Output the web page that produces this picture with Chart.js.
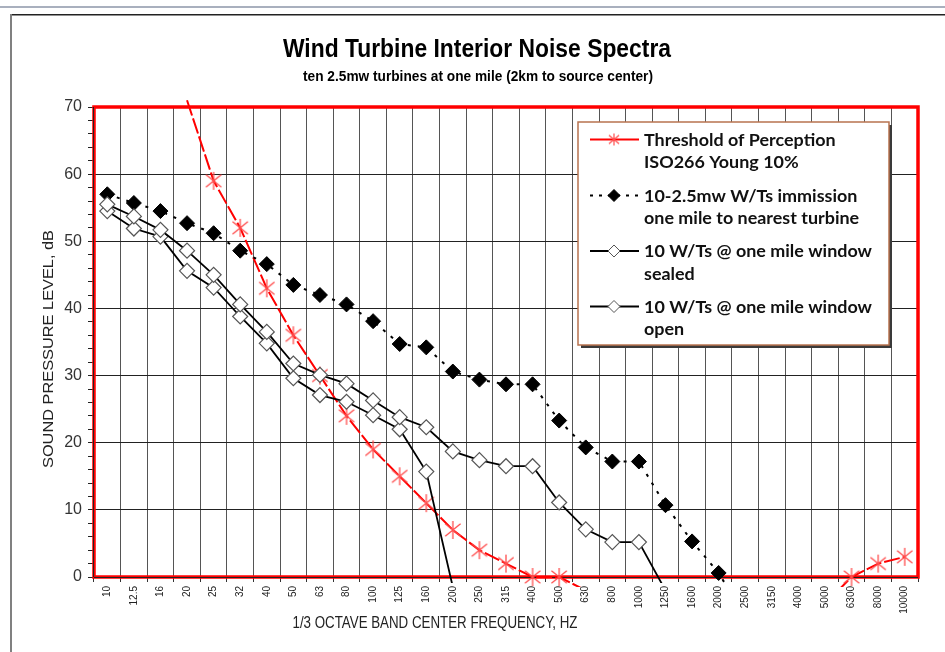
<!DOCTYPE html>
<html>
<head>
<meta charset="utf-8">
<title>Wind Turbine Interior Noise Spectra</title>
<script src="https://cdn.jsdelivr.net/npm/chart.js@4.4.0/dist/chart.umd.min.js"></script>
<style>
  body { margin: 0; background: #fff; }
  canvas { display: block; }
</style>
</head>
<body>
<canvas id="noiseChart" width="945" height="652"></canvas>
<script>
// 1/3 octave band centre frequencies, Hz
var bands = ['10', '12.5', '16', '20', '25', '32', '40', '50', '63', '80', '100', '125', '160', '200', '250',
             '315', '400', '500', '630', '800', '1000', '1250', '1600', '2000', '2500', '3150', '4000',
             '5000', '6300', '8000', '10000'];

// dB values (values below 0 sit outside the plot and get clipped)
var threshold = [null, null, null, 71, 59, 52, 43, 36, 30, 24, 19, 15, 11, 7, 4, 2, 0, 0,
                 -2, -4, -5, -6, -7, -8, -8, -8, -7, -4, 0, 2, 3];
var immission = [57, 55.7, 54.5, 52.7, 51.2, 48.6, 46.6, 43.5, 42, 40.6, 38.1, 34.7, 34.2, 30.6, 29.4,
                 28.7, 28.7, 23.3, 19.3, 17.2, 17.2, 10.7, 5.3, 0.6, -6, null, null, null, null, null, null];
var windowSealed = [54.5, 51.9, 50.7, 45.6, 43.1, 38.8, 34.8, 29.6, 27.1, 26.1, 24.1, 22, 15.7, -1.5, -10,
                    null, null, null, null, null, null, null, null, null, null, null, null, null, null, null, null];
var windowOpen = [55.5, 53.7, 51.7, 48.6, 45, 40.6, 36.5, 31.8, 30.1, 28.8, 26.3, 23.8, 22.3, 18.7, 17.4,
                  16.5, 16.5, 11.1, 7.1, 5.2, 5.2, -2, null, null, null, null, null, null, null, null, null];

// legend text, two lines per series
var legendText = [
    ['Threshold of Perception', 'ISO266 Young 10%'],
    ['10-2.5mw W/Ts immission', 'one mile to nearest turbine'],
    ['10 W/Ts @ one mile window', 'sealed'],
    ['10 W/Ts @ one mile window', 'open']
];

var FONT = "'Liberation Sans', Arial, sans-serif";

// six-armed asterisk like the spreadsheet marker
function makeAsterisk(r, width) {
    var c = document.createElement('canvas');
    c.width = c.height = 2 * r + 2;
    var g = c.getContext('2d');
    var m = r + 1;
    g.strokeStyle = '#ff4d4d';
    g.lineWidth = width;
    g.beginPath();
    g.moveTo(m, m - r); g.lineTo(m, m + r);
    g.moveTo(m - r * 0.85, m - r * 0.7); g.lineTo(m + r * 0.85, m + r * 0.7);
    g.moveTo(m - r * 0.85, m + r * 0.7); g.lineTo(m + r * 0.85, m - r * 0.7);
    g.stroke();
    return c;
}
var asterisk = makeAsterisk(9, 1.3);
var smallAsterisk = makeAsterisk(6, 1.2);

// draw text squeezed sideways to a given width
function fitText(ctx, text, x, y, font, width, align) {
    ctx.save();
    ctx.font = font;
    var s = width / ctx.measureText(text).width;
    ctx.translate(x, y);
    ctx.scale(s, 1);
    ctx.textAlign = align || 'center';
    ctx.fillText(text, 0, 0);
    ctx.restore();
}

function legendMarker(ctx, kind, x, y) {
    ctx.save();
    ctx.setLineDash([]);
    if (kind === 'star') {
        ctx.drawImage(smallAsterisk, x - smallAsterisk.width / 2, y - smallAsterisk.height / 2);
    } else {
        ctx.beginPath();
        ctx.moveTo(x, y - 6); ctx.lineTo(x + 6, y); ctx.lineTo(x, y + 6); ctx.lineTo(x - 6, y);
        ctx.closePath();
        ctx.fillStyle = kind === 'filled' ? '#000' : '#fff';
        ctx.fill();
        ctx.strokeStyle = kind === 'filled' ? '#000' : '#555';
        ctx.lineWidth = 1;
        ctx.stroke();
    }
    ctx.restore();
}

function hideOutside(r) {
    return function(c) { return (c.raw < 0 || c.raw > 70) ? 0 : r; };
}

var decorations = {
    id: 'decorations',
    beforeDraw: function(chart) {
        var ctx = chart.ctx;
        ctx.save();
        ctx.fillStyle = '#fff';
        ctx.fillRect(0, 0, chart.width, chart.height);
        // outer frame
        ctx.fillStyle = '#a9b0be';
        ctx.fillRect(0, 6, chart.width, 2);
        ctx.fillStyle = '#222';
        ctx.fillRect(11, 14, chart.width - 11, 1.5);
        ctx.fillStyle = '#808080';
        ctx.fillRect(10, 14, 2, chart.height - 14);
        ctx.restore();
    },
    beforeDatasetsDraw: function(chart) {
        var ctx = chart.ctx, a = chart.chartArea;
        ctx.save();
        ctx.strokeStyle = '#ff0000';
        ctx.lineWidth = 3.5;
        ctx.strokeRect(a.left, a.top, a.right - a.left, a.bottom - a.top);
        ctx.fillStyle = '#222';
        ctx.fillRect(a.left - 1, a.top, 1, a.bottom - a.top);
        ctx.fillRect(a.left, a.bottom, a.right - a.left, 1);
        ctx.restore();
    },
    afterDraw: function(chart) {
        var ctx = chart.ctx;
        ctx.save();
        ctx.fillStyle = '#000';
        fitText(ctx, 'Wind Turbine Interior Noise Spectra', 477, 57, 'bold 25px ' + FONT, 388);
        fitText(ctx, 'ten 2.5mw turbines at one mile (2km to source center)', 478, 81, 'bold 15px ' + FONT, 350);

        ctx.fillStyle = '#222';
        fitText(ctx, '1/3 OCTAVE BAND CENTER FREQUENCY, HZ', 435, 628, '16px ' + FONT, 285);
        ctx.save();
        ctx.translate(53, 349);
        ctx.rotate(-Math.PI / 2);
        fitText(ctx, 'SOUND PRESSURE LEVEL, dB', 0, 0, '15px ' + FONT, 238);
        ctx.restore();

        // legend box
        var bx = 578, by = 122, bw = 311, bh = 223;
        ctx.fillStyle = '#3a3a3a';
        ctx.fillRect(bx + 3, by + 3, bw, bh);
        ctx.fillStyle = '#fff';
        ctx.fillRect(bx, by, bw, bh);
        ctx.strokeStyle = '#b8734f';
        ctx.lineWidth = 1.5;
        ctx.strokeRect(bx, by, bw, bh);

        var baselines = [145.5, 201.5, 257, 312.5];
        var legendFont = "bold 17px Lato, 'Open Sans', sans-serif";
        ctx.font = legendFont;
        var squeeze = 228 / ctx.measureText('10 W/Ts @ one mile window').width;
        var kinds = ['star', 'filled', 'open', 'open'];
        chart.data.datasets.forEach(function(ds, i) {
            var y = baselines[i] - 6;
            ctx.save();
            ctx.strokeStyle = ds.borderColor;
            ctx.lineWidth = ds.borderWidth;
            ctx.setLineDash(i === 1 ? [3, 6] : []);
            ctx.beginPath();
            ctx.moveTo(590, y);
            ctx.lineTo(639, y);
            ctx.stroke();
            ctx.restore();
            legendMarker(ctx, kinds[i], 614, y);

            ctx.fillStyle = '#111';
            legendText[i].forEach(function(line, j) {
                ctx.save();
                ctx.font = legendFont;
                ctx.translate(644, baselines[i] + j * 22.5);
                ctx.scale(squeeze, 1);
                ctx.textAlign = 'left';
                ctx.fillText(line, 0, 0);
                ctx.restore();
            });
        });
        ctx.restore();
    }
};

var chart = new Chart(document.getElementById('noiseChart'), {
    type: 'line',
    data: {
        labels: bands,
        datasets: [{
            label: legendText[0].join(' '),
            data: threshold,
            borderColor: '#ff0000',
            borderWidth: 2,
            borderDash: [16, 3],
            pointStyle: asterisk,
            pointRadius: hideOutside(9),
            clip: { left: 0, top: 8, right: 0, bottom: 10 },
            order: 4
        }, {
            label: legendText[1].join(' '),
            data: immission,
            borderColor: '#000',
            borderWidth: 2,
            borderDash: [3, 7],
            pointStyle: 'rectRot',
            pointRadius: hideOutside(7.5),
            pointBackgroundColor: '#000',
            pointBorderColor: '#000',
            pointBorderWidth: 1,
            clip: { left: 0, top: 0, right: 0, bottom: 8 },
            order: 3
        }, {
            label: legendText[2].join(' '),
            data: windowSealed,
            borderColor: '#000',
            borderWidth: 1.8,
            pointStyle: 'rectRot',
            pointRadius: hideOutside(7.5),
            pointBackgroundColor: '#fff',
            pointBorderColor: '#555',
            pointBorderWidth: 1.2,
            clip: { left: 0, top: 0, right: 0, bottom: 6 },
            order: 2
        }, {
            label: legendText[3].join(' '),
            data: windowOpen,
            borderColor: '#000',
            borderWidth: 1.8,
            pointStyle: 'rectRot',
            pointRadius: hideOutside(7.5),
            pointBackgroundColor: '#fff',
            pointBorderColor: '#555',
            pointBorderWidth: 1.2,
            clip: { left: 0, top: 0, right: 0, bottom: 6 },
            order: 1
        }]
    },
    options: {
        responsive: false,
        animation: false,
        layout: { padding: { top: 107, right: 27, left: 0, bottom: 0 } },
        plugins: {
            legend: { display: false },
            tooltip: { enabled: false },
            title: { display: false }
        },
        scales: {
            x: {
                offset: true,
                border: { display: false },
                grid: { offset: true, color: '#555', lineWidth: 1, tickLength: 5, tickColor: '#333' },
                ticks: {
                    autoSkip: false,
                    minRotation: 90,
                    maxRotation: 90,
                    padding: 4,
                    color: '#222',
                    font: { family: FONT, size: 10 }
                },
                afterFit: function(scale) { scale.height = 75; }
            },
            y: {
                min: 0,
                max: 70,
                border: { display: false },
                grid: {
                    color: function(c) { return c.tick && c.tick.value % 10 === 0 ? '#222' : 'rgba(0,0,0,0)'; },
                    tickColor: '#222',
                    tickLength: 6
                },
                ticks: {
                    stepSize: 2,
                    autoSkip: false,
                    padding: 6,
                    color: '#333',
                    font: { family: FONT, size: 16 },
                    callback: function(v) { return v % 10 === 0 ? v : ''; }
                },
                afterFit: function(scale) { scale.width = 94; }
            }
        }
    },
    plugins: [decorations]
});
</script>
</body>
</html>
